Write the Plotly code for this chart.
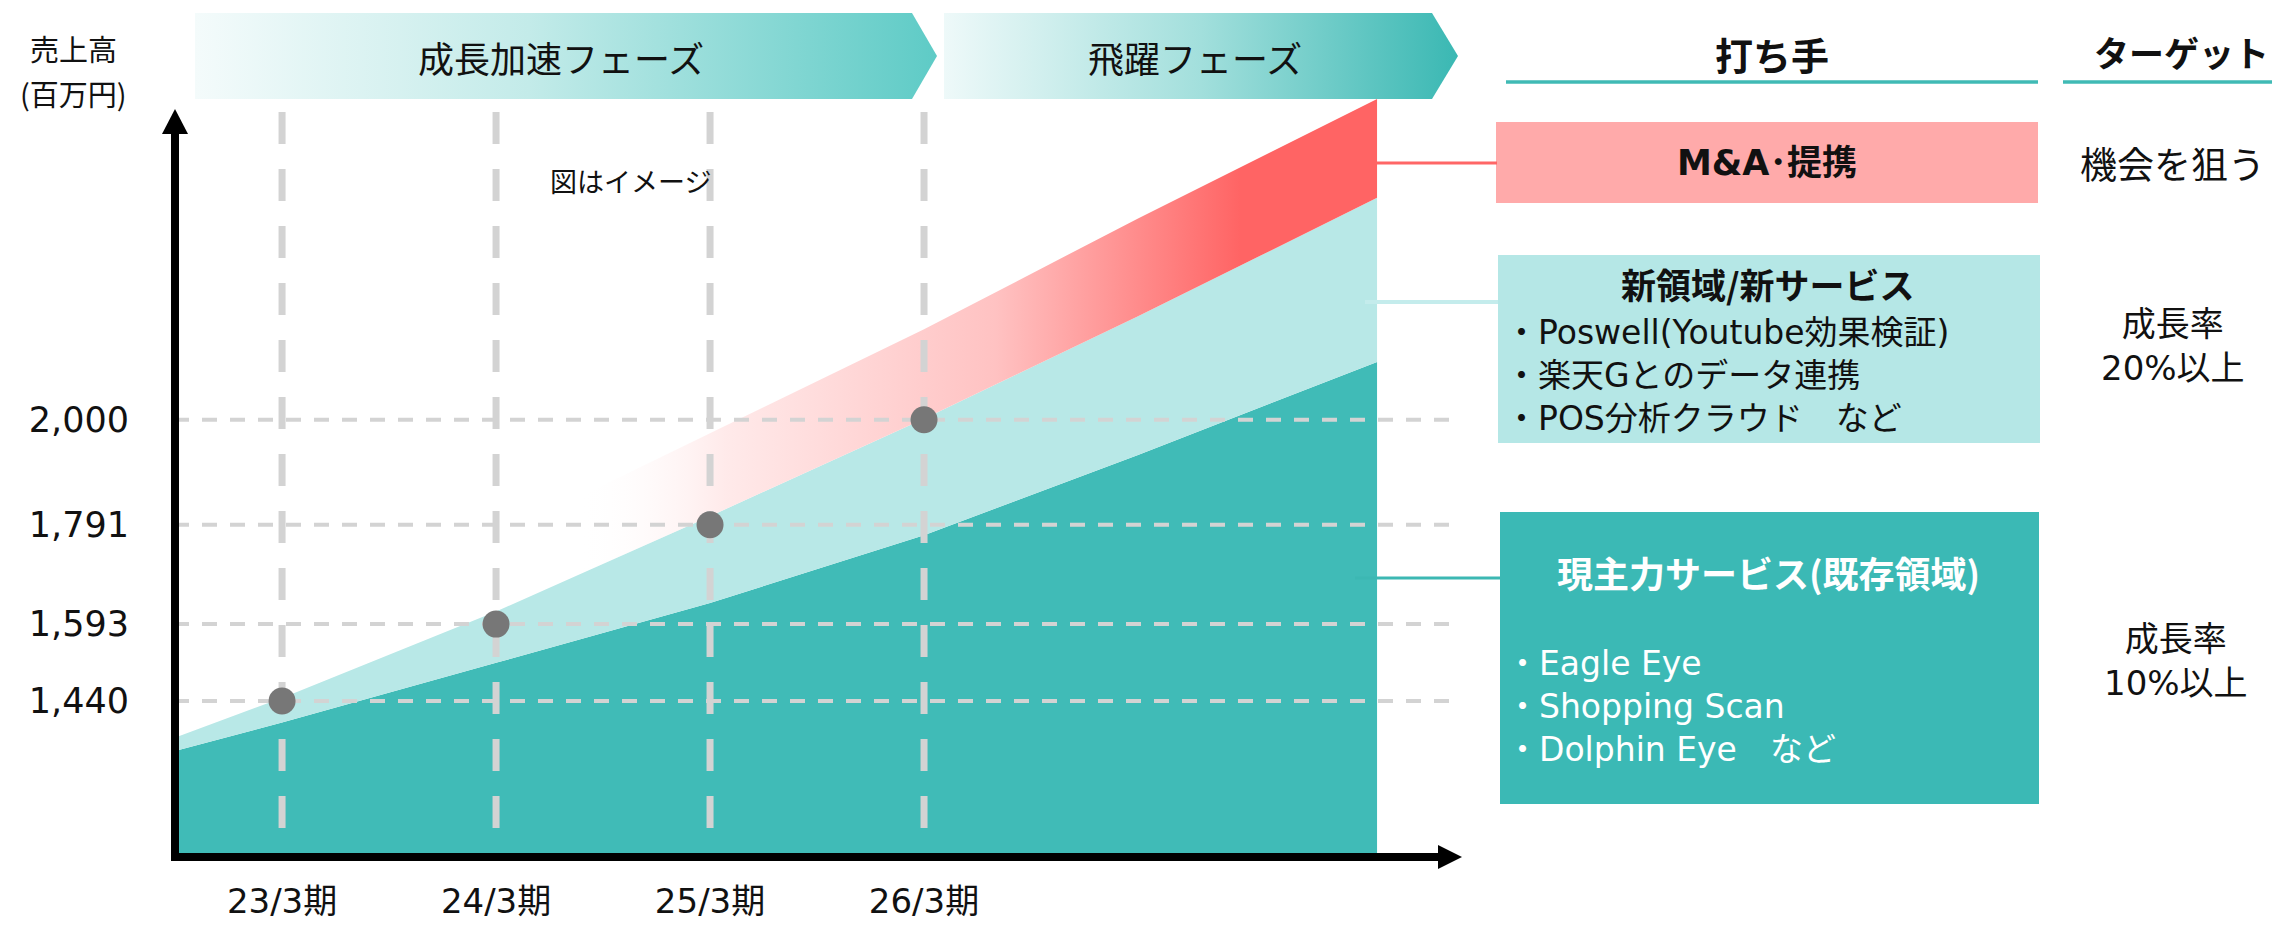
import plotly.graph_objects as go

# ---------------- data ----------------
CATEGORIES = ["23/3期", "24/3期", "25/3期", "26/3期"]
CAT_POS = [0, 1, 2, 3]
SALES = [1440, 1593, 1791, 2000]            # 売上高（百万円）
Y_TICKS = [1440, 1593, 1791, 2000]

AREA_X = [-0.505, 0, 1, 2, 3, 4, 5.117]
EXISTING_TOP = [1340, 1397, 1516, 1635, 1770, 1930, 2115]   # 現主力サービス
NEW_TOP = [1366, 1446, 1618, 1808, 2002, 2206, 2442]        # 新領域/新サービス
MA_TOP = [1455, 1560, 1766, 1973, 2180, 2401, 2639]         # M&A・提携

PHASES = ["成長加速フェーズ", "飛躍フェーズ"]
ACTIONS_HEADER = "打ち手"
TARGET_HEADER = "ターゲット"
MA_TITLE = "M&A･提携"
NEW_TITLE = "新領域/新サービス"
NEW_ITEMS = ["・Poswell(Youtube効果検証)", "・楽天Gとのデータ連携", "・POS分析クラウド　など"]
EXIST_TITLE = "現主力サービス(既存領域)"
EXIST_ITEMS = ["・Eagle Eye", "・Shopping Scan", "・Dolphin Eye　など"]
TARGET_MA = "機会を狙う"
TARGET_NEW = ["成長率", "20%以上"]
TARGET_EXIST = ["成長率", "10%以上"]

# ---------------- style ----------------
W, H = 2272, 925
JP = "Noto Sans CJK JP"
MIX = "DejaVu Sans, Noto Sans CJK JP"
DARK = "#40bbb7"
LIGHT = "#b8e8e7"
GRID = "#d3d3d3"

fig = go.Figure()

# stacked areas
fig.add_trace(go.Scatter(x=AREA_X, y=EXISTING_TOP, mode="lines", line=dict(width=0),
                         fill="tozeroy", fillcolor=DARK, hoverinfo="skip", showlegend=False))
fig.add_trace(go.Scatter(x=AREA_X, y=NEW_TOP, mode="lines", line=dict(width=0),
                         fill="tonexty", fillcolor=LIGHT, hoverinfo="skip", showlegend=False))
fig.add_trace(go.Scatter(x=AREA_X, y=MA_TOP, mode="lines", line=dict(width=0),
                         fill="tonexty",
                         fillgradient=dict(type="horizontal", start=1.385, stop=4.48,
                                           colorscale=[[0, "rgba(255,255,255,0)"],
                                                       [0.22, "rgba(255,234,234,1)"],
                                                       [0.63, "#ffc2c2"],
                                                       [1, "#ff6464"]]),
                         hoverinfo="skip", showlegend=False))

XMIN, XMAX = -0.505, 5.514
YMIN, YMAX = 1129.2, 2656.7
VTOP = 2612.8

# dashed horizontal guide lines (over the areas)
for v in Y_TICKS:
    fig.add_trace(go.Scatter(x=[XMIN, 5.48], y=[v, v], mode="lines",
                             line=dict(color=GRID, width=4, dash="15px,13px"),
                             hoverinfo="skip", showlegend=False))
# dashed vertical guide lines
for p in CAT_POS:
    fig.add_trace(go.Scatter(x=[p, p], y=[VTOP, YMIN], mode="lines",
                             line=dict(color=GRID, width=7, dash="32px,25px"),
                             hoverinfo="skip", showlegend=False))
# sales points
fig.add_trace(go.Scatter(x=CAT_POS, y=SALES, mode="markers",
                         marker=dict(size=27, color="#777777", line=dict(width=0)),
                         showlegend=False))

# phase banners (pixel-space overlay axes)
B1X = [195, 912, 937, 912, 195, 195]
B1Y = [13, 13, 56, 99, 99, 13]
B2X = [944, 1432, 1458, 1432, 944, 944]
B2Y = B1Y
fig.add_trace(go.Scatter(x=B1X, y=B1Y, xaxis="x2", yaxis="y2", mode="lines", line=dict(width=0),
                         fill="toself",
                         fillgradient=dict(type="horizontal",
                                           colorscale=[[0, "#f4fbfb"], [0.45, "#c3ebe9"], [1, "#5ecbc6"]]),
                         hoverinfo="skip", showlegend=False))
fig.add_trace(go.Scatter(x=B2X, y=B2Y, xaxis="x2", yaxis="y2", mode="lines", line=dict(width=0),
                         fill="toself",
                         fillgradient=dict(type="horizontal",
                                           colorscale=[[0, "#eef9f9"], [0.5, "#a2dfdc"], [1, "#3ab8b3"]]),
                         hoverinfo="skip", showlegend=False))

shapes = []
def pline(x0, y0, x1, y1, color, width):
    shapes.append(dict(type="line", xref="x2", yref="y2", x0=x0, y0=y0, x1=x1, y1=y1,
                       line=dict(color=color, width=width), layer="above"))
def prect(x0, y0, x1, y1, color):
    shapes.append(dict(type="rect", xref="x2", yref="y2", x0=x0, y0=y0, x1=x1, y1=y1,
                       fillcolor=color, line=dict(width=0), layer="above"))
def ppath(path, color):
    shapes.append(dict(type="path", xref="x2", yref="y2", path=path,
                       fillcolor=color, line=dict(width=0), layer="above"))

# axes with arrows
pline(175, 861, 175, 128, "black", 8)
ppath("M 162 134 L 188 134 L 175 109 Z", "black")
pline(171, 857, 1440, 857, "black", 8)
ppath("M 1438 845 L 1438 869 L 1462 857 Z", "black")

# header underlines
pline(1506, 82, 2038, 82, "#40bab5", 3.5)
pline(2063, 82, 2272, 82, "#40bab5", 3.5)
# boxes
prect(1496, 122, 2038, 203, "#ffaaaa")
prect(1498, 255, 2040, 443, "#b5e7e6")
prect(1500, 512, 2039, 804, "#3bb9b5")
# connectors
pline(1377, 163, 1497, 163, "#ff6666", 3)
pline(1365, 302, 1498, 302, "#c4ecec", 4)
pline(1355, 578, 1500, 578, "#3cb8b3", 3)

ann = []
def txt(x, y, s, size, color="#111111", xanchor="center", align="center", family=JP):
    ann.append(dict(x=x, y=y, xref="x2", yref="y2", text=s, showarrow=False,
                    xanchor=xanchor, yanchor="middle", align=align,
                    font=dict(family=family, size=size, color=color)))

txt(73, 48, "売上高", 29)
txt(73, 93, "(百万円)", 29)
txt(561, 57, PHASES[0], 36)
txt(1195, 57, PHASES[1], 36)
txt(630, 180, "図はイメージ", 27)
txt(1772, 53, "<b>%s</b>" % ACTIONS_HEADER, 38)
txt(2181, 51, "<b>%s</b>" % TARGET_HEADER, 35)
txt(1767, 163, "<b>%s</b>" % MA_TITLE, 35, family=MIX)
txt(1768, 283, "<b>%s</b>" % NEW_TITLE, 35)
txt(1503, 375, "<br>".join(NEW_ITEMS), 33, xanchor="left", align="left", family=MIX)
txt(1768, 572, "<b>%s</b>" % EXIST_TITLE, 36, color="white")
txt(1504, 706, "<br>".join(EXIST_ITEMS), 33, color="white", xanchor="left", align="left", family=MIX)
txt(2172, 163, TARGET_MA, 37)
txt(2173, 346, "<br>".join(TARGET_NEW), 34, family=MIX)
txt(2176, 661, "<br>".join(TARGET_EXIST), 34, family=MIX)

fig.update_layout(
    width=W, height=H, margin=dict(l=0, r=0, t=0, b=0, autoexpand=False),
    paper_bgcolor="white", plot_bgcolor="rgba(0,0,0,0)",
    showlegend=False, shapes=shapes, annotations=ann,
    xaxis=dict(domain=[174 / W, 1462 / W], range=[XMIN, XMAX], tickvals=CAT_POS,
               ticktext=CATEGORIES, showgrid=False, zeroline=False, showline=False,
               ticks="", ticklabelstandoff=21, tickfont=dict(family=MIX, size=34, color="#111111"),
               automargin=False, fixedrange=True),
    yaxis=dict(domain=[1 - 857 / H, 1 - 90 / H], range=[YMIN, YMAX], tickvals=Y_TICKS,
               tickformat=",d", showgrid=False, zeroline=False, showline=False,
               ticks="", ticklabelstandoff=44, tickfont=dict(family=MIX, size=35, color="#111111"),
               automargin=False, fixedrange=True),
    xaxis2=dict(domain=[0, 1], range=[0, W], visible=False, anchor="y2",
                automargin=False, fixedrange=True),
    yaxis2=dict(domain=[0, 1], range=[H, 0], visible=False, anchor="x2",
                automargin=False, fixedrange=True),
)

fig.write_html("out.html", config={"displayModeBar": False},
               post_script="document.body.style.margin='0';document.body.style.overflow='hidden';")
